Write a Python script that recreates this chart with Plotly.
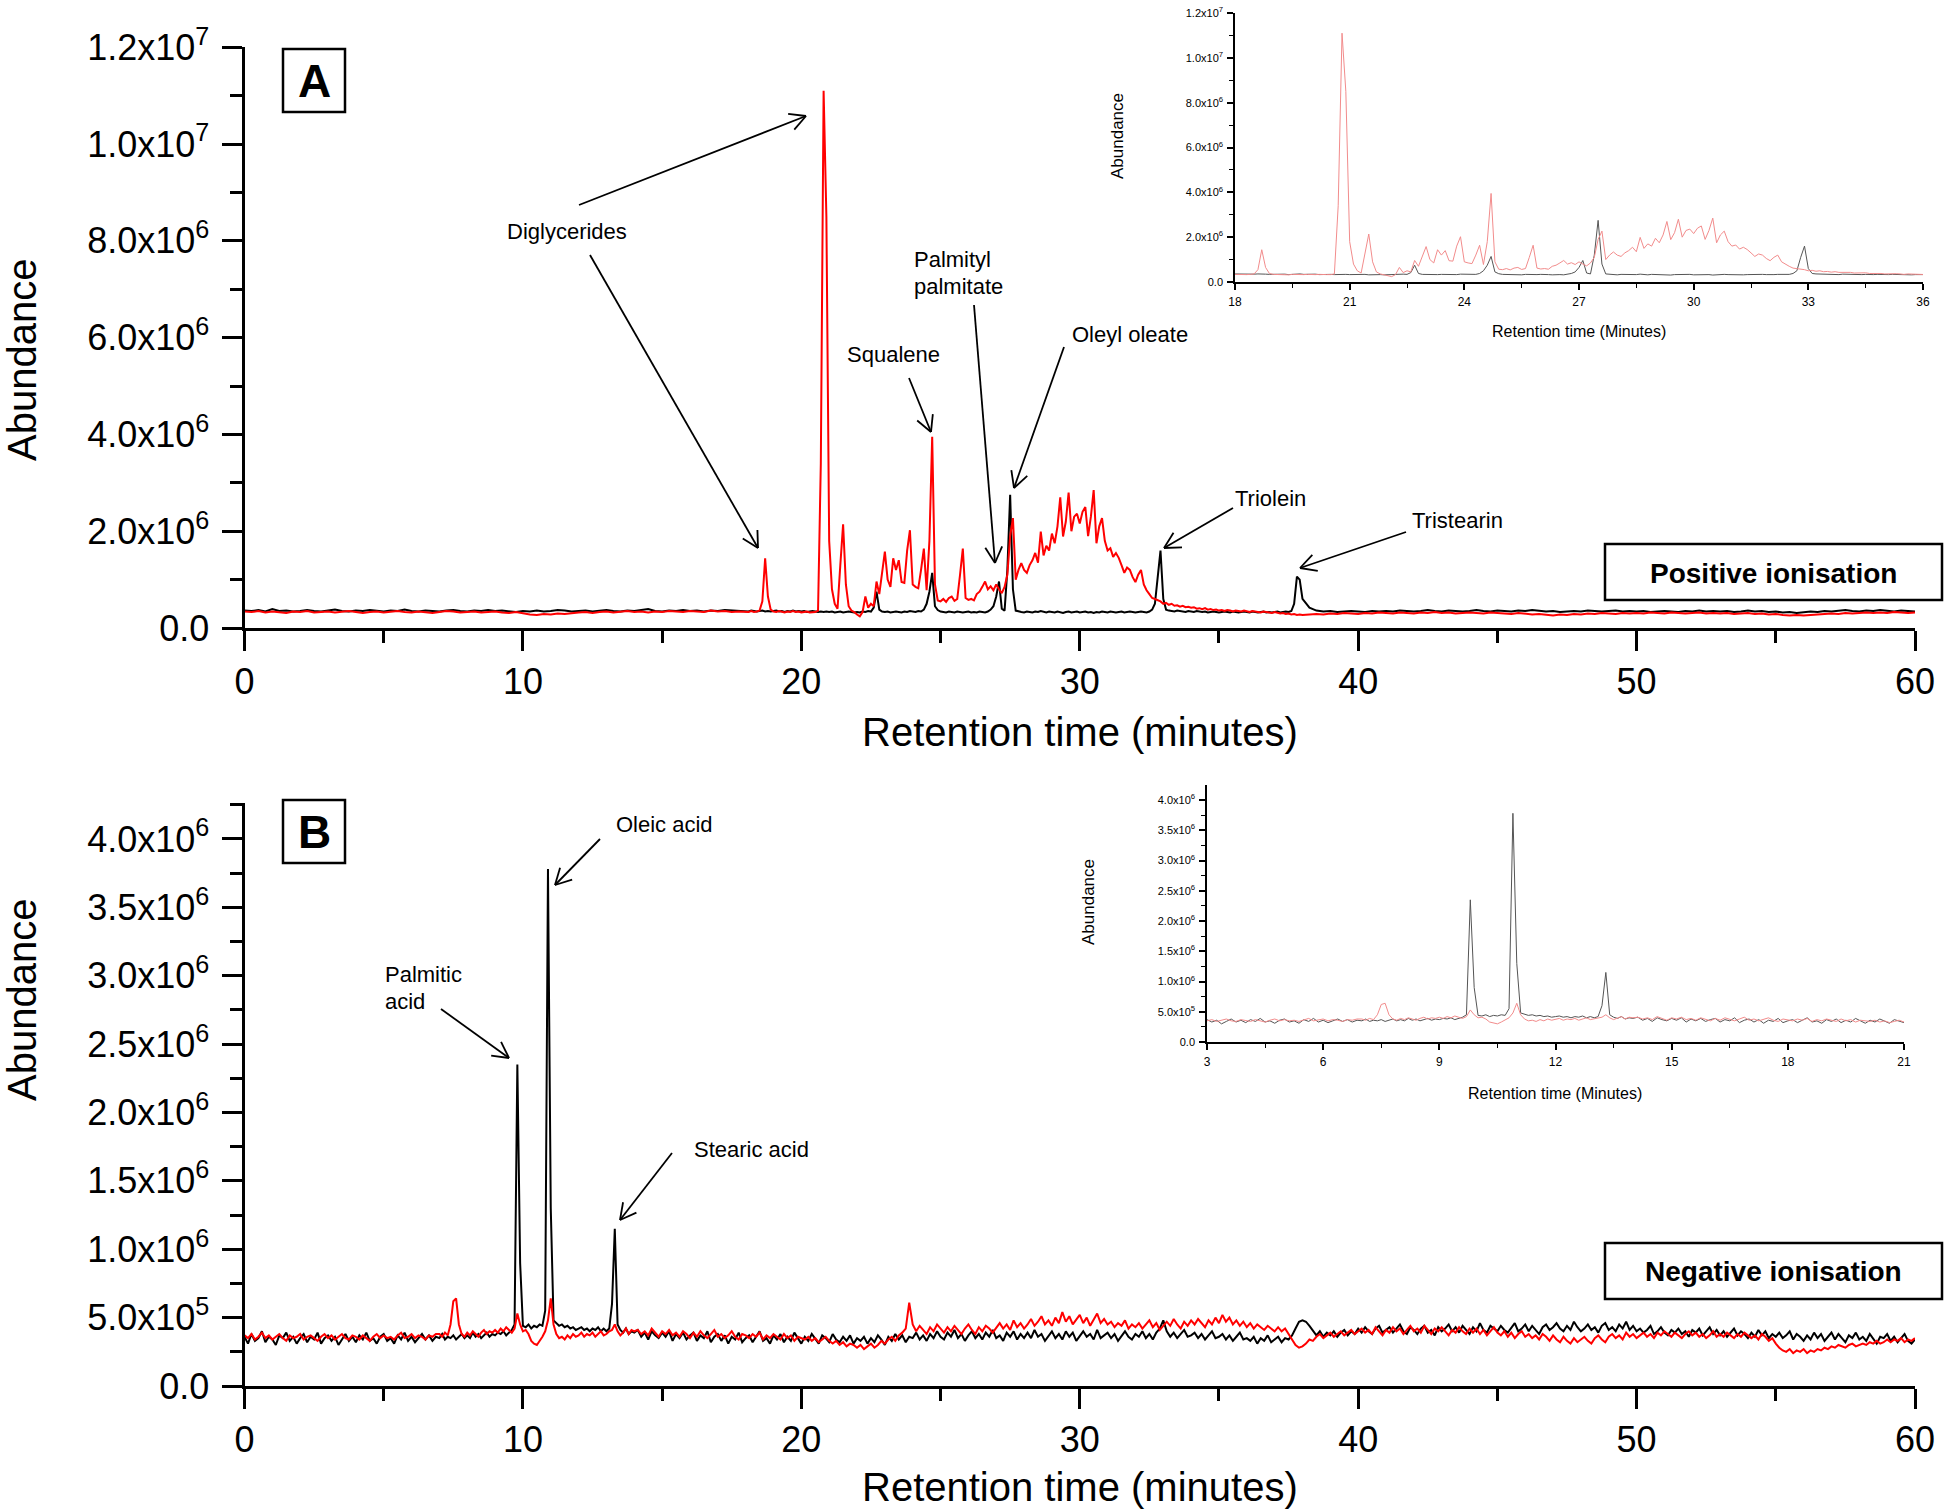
import math
import numpy as np
import plotly.graph_objects as go

W, H = 1946, 1512
FONT = "Liberation Sans, Arial, Helvetica, sans-serif"

# ---------------- DATA (abundance in units of 1e6) ----------------
# Panel A: positive ionisation. Three sampling segments per trace.
A_EARLY = (0.0, 0.25)   # start, step (min)
A_MID = (18.0, 0.1)
A_LATE = (38.25, 0.25)

a_black_early = [
    0.36, 0.35, 0.37, 0.34, 0.39, 0.35, 0.36, 0.34, 0.35, 0.37, 0.35, 0.34,
    0.36, 0.38, 0.35, 0.34, 0.36, 0.35, 0.37, 0.35, 0.34, 0.36, 0.35, 0.38,
    0.35, 0.34, 0.36, 0.35, 0.34, 0.36, 0.37, 0.35, 0.34, 0.36, 0.35, 0.37,
    0.35, 0.36, 0.34, 0.33, 0.35, 0.34, 0.36, 0.34, 0.35, 0.37, 0.36, 0.34,
    0.35, 0.36, 0.34, 0.35, 0.37, 0.35, 0.34, 0.36, 0.35, 0.37, 0.39, 0.35,
    0.34, 0.36, 0.35, 0.37, 0.35, 0.36, 0.34, 0.36, 0.35, 0.37, 0.36, 0.35]
a_black_mid = [
    0.35, 0.34, 0.36, 0.35, 0.34, 0.35, 0.36, 0.34, 0.35, 0.34,
    0.35, 0.36, 0.34, 0.35, 0.33, 0.35, 0.34, 0.36, 0.34, 0.35,
    0.34, 0.35, 0.33, 0.34, 0.35, 0.34, 0.33, 0.34, 0.33, 0.34,
    0.33, 0.34, 0.32, 0.33, 0.34, 0.32, 0.33, 0.34, 0.33, 0.32,
    0.33, 0.32, 0.34, 0.33, 0.35, 0.34, 0.42, 0.75, 0.38, 0.34,
    0.33, 0.34, 0.32, 0.33, 0.34, 0.33, 0.32, 0.34, 0.33, 0.35,
    0.34, 0.33, 0.35, 0.34, 0.38, 0.50, 0.75, 1.14, 0.45, 0.37,
    0.34, 0.33, 0.32, 0.34, 0.33, 0.32, 0.34, 0.33, 0.32, 0.33,
    0.34, 0.32, 0.33, 0.32, 0.34, 0.33, 0.32, 0.34, 0.38, 0.45,
    0.65, 0.96, 0.40, 0.36, 1.20, 2.75, 0.80, 0.36, 0.34, 0.33,
    0.32, 0.34, 0.33, 0.32, 0.34, 0.33, 0.35, 0.33, 0.32, 0.34,
    0.33, 0.32, 0.34, 0.33, 0.31, 0.33, 0.34, 0.32, 0.33, 0.34,
    0.32, 0.33, 0.34, 0.32, 0.33, 0.31, 0.33, 0.32, 0.34, 0.33,
    0.32, 0.34, 0.33, 0.32, 0.33, 0.34, 0.32, 0.33, 0.34, 0.33,
    0.32, 0.33, 0.34, 0.33, 0.32, 0.34, 0.38, 0.50, 1.10, 1.60,
    0.60, 0.38, 0.36, 0.35, 0.34, 0.36, 0.35, 0.34, 0.33, 0.35,
    0.34, 0.33, 0.35, 0.34, 0.33, 0.34, 0.32, 0.33, 0.34, 0.33,
    0.32, 0.33, 0.34, 0.33, 0.32, 0.34, 0.33, 0.32, 0.33, 0.34,
    0.33, 0.32, 0.34, 0.33, 0.32, 0.33, 0.34, 0.32, 0.33, 0.32,
    0.33, 0.34, 0.32, 0.33, 0.34, 0.33, 0.35, 0.50, 1.06, 1.00,
    0.60]
a_black_late = [
    0.42, 0.36, 0.34, 0.35, 0.33, 0.34, 0.35, 0.34, 0.33, 0.35, 0.34,
    0.35, 0.34, 0.36, 0.35, 0.34, 0.35, 0.37, 0.35, 0.34, 0.36, 0.35, 0.34,
    0.35, 0.37, 0.35, 0.34, 0.36, 0.35, 0.34, 0.36, 0.35, 0.37, 0.35, 0.34,
    0.35, 0.33, 0.34, 0.35, 0.34, 0.36, 0.35, 0.34, 0.35, 0.36, 0.34, 0.35,
    0.34, 0.35, 0.33, 0.34, 0.35, 0.34, 0.33, 0.35, 0.34, 0.36, 0.34, 0.35,
    0.34, 0.35, 0.33, 0.34, 0.36, 0.34, 0.35, 0.33, 0.34, 0.32, 0.33, 0.31,
    0.32, 0.34, 0.33, 0.35, 0.34, 0.36, 0.37, 0.35, 0.34, 0.36, 0.35, 0.37,
    0.35, 0.34, 0.36, 0.35, 0.34]

a_red_early = [
    0.34, 0.33, 0.35, 0.32, 0.34, 0.33, 0.31, 0.34, 0.33, 0.35, 0.32, 0.33,
    0.34, 0.32, 0.33, 0.35, 0.33, 0.31, 0.33, 0.34, 0.32, 0.33, 0.35, 0.33,
    0.32, 0.34, 0.33, 0.31, 0.33, 0.35, 0.34, 0.32, 0.33, 0.34, 0.32, 0.33,
    0.34, 0.32, 0.31, 0.33, 0.30, 0.28, 0.27, 0.29, 0.28, 0.30, 0.29, 0.31,
    0.32, 0.33, 0.31, 0.33, 0.34, 0.32, 0.33, 0.35, 0.33, 0.34, 0.32, 0.34,
    0.33, 0.35, 0.34, 0.33, 0.35, 0.34, 0.33, 0.36, 0.34, 0.35, 0.33, 0.34]
a_red_mid = [
    0.34, 0.33, 0.35, 0.33, 0.34, 0.36, 0.55, 1.44, 0.65, 0.38,
    0.34, 0.33, 0.35, 0.34, 0.32, 0.34, 0.33, 0.35, 0.33, 0.34,
    0.32, 0.33, 0.34, 0.32, 0.33, 0.33, 0.36, 3.40, 11.10, 8.50,
    1.80, 0.80, 0.50, 0.40, 1.30, 2.14, 0.90, 0.45, 0.36, 0.33,
    0.28, 0.24, 0.33, 0.65, 0.42, 0.50, 0.45, 0.96, 0.70, 1.10,
    1.58, 1.00, 0.85, 1.44, 1.20, 1.40, 0.95, 0.93, 1.60, 2.02,
    0.90, 0.85, 0.82, 1.20, 1.64, 0.78, 1.80, 3.95, 0.90, 0.57,
    0.55, 0.60, 0.54, 0.62, 0.65, 0.56, 0.60, 1.10, 1.64, 0.62,
    0.58, 0.60, 0.57, 0.70, 0.75, 0.85, 0.96, 0.80, 0.86, 0.78,
    0.90, 0.80, 0.72, 0.85, 1.10, 1.90, 2.27, 1.00, 1.20, 1.34,
    1.20, 1.14, 1.30, 1.40, 1.55, 1.35, 1.99, 1.50, 1.70, 1.60,
    1.95, 1.75, 2.10, 2.70, 1.89, 2.20, 2.80, 2.00, 2.30, 2.36,
    2.16, 2.40, 2.50, 1.90, 2.30, 2.85, 1.75, 2.10, 2.27, 1.80,
    1.60, 1.65, 1.47, 1.55, 1.45, 1.30, 1.14, 1.25, 1.20, 1.05,
    0.95, 1.10, 1.20, 0.90, 0.78, 0.70, 0.62, 0.60, 0.58, 0.55,
    0.50, 0.52, 0.48, 0.50, 0.46, 0.47, 0.44, 0.46, 0.43, 0.44,
    0.42, 0.43, 0.40, 0.41, 0.39, 0.41, 0.38, 0.39, 0.37, 0.38,
    0.36, 0.37, 0.35, 0.37, 0.36, 0.34, 0.36, 0.35, 0.34, 0.36,
    0.34, 0.33, 0.35, 0.34, 0.33, 0.32, 0.34, 0.33, 0.32, 0.31,
    0.33, 0.32, 0.30, 0.31, 0.29, 0.30, 0.28, 0.29, 0.27, 0.28,
    0.27]
a_red_late = [
    0.28, 0.29, 0.28, 0.30, 0.29, 0.31, 0.30, 0.29, 0.31, 0.30, 0.32,
    0.31, 0.30, 0.32, 0.31, 0.30, 0.32, 0.31, 0.33, 0.31, 0.32, 0.30, 0.31,
    0.32, 0.31, 0.30, 0.32, 0.31, 0.30, 0.29, 0.31, 0.30, 0.28, 0.29, 0.27,
    0.26, 0.28, 0.27, 0.29, 0.28, 0.30, 0.29, 0.31, 0.30, 0.29, 0.31, 0.30,
    0.31, 0.30, 0.32, 0.31, 0.30, 0.32, 0.31, 0.30, 0.31, 0.32, 0.30, 0.31,
    0.30, 0.31, 0.29, 0.30, 0.31, 0.29, 0.30, 0.28, 0.29, 0.27, 0.26, 0.27,
    0.26, 0.27, 0.28, 0.29, 0.30, 0.29, 0.31, 0.30, 0.31, 0.32, 0.31, 0.32,
    0.31, 0.33, 0.32, 0.31, 0.32]

# Panel B: negative ionisation
B_EARLY = (0.0, 0.125)
B_MID = (7.0, 0.1)
B_LATE = (14.125, 0.125)

b_black_early = [
    0.36, 0.31, 0.38, 0.33, 0.35, 0.40, 0.32, 0.36,
    0.34, 0.30, 0.37, 0.35, 0.39, 0.33, 0.36, 0.31,
    0.35, 0.38, 0.32, 0.36, 0.34, 0.39, 0.31, 0.35,
    0.37, 0.33, 0.36, 0.30, 0.34, 0.38, 0.33, 0.36,
    0.32, 0.37, 0.34, 0.39, 0.33, 0.35, 0.31, 0.36,
    0.38, 0.33, 0.35, 0.31, 0.37, 0.34, 0.39, 0.33,
    0.36, 0.32, 0.35, 0.38, 0.34, 0.37, 0.33, 0.36]
b_black_mid = [
    0.35, 0.38, 0.34, 0.36, 0.35, 0.37, 0.34, 0.36, 0.38, 0.35,
    0.37, 0.35, 0.39, 0.36, 0.38, 0.35, 0.37, 0.39, 0.36, 0.38,
    0.37, 0.39, 0.38, 0.40, 0.37, 0.39, 0.41, 0.45, 2.35, 0.90,
    0.44, 0.43, 0.45, 0.42, 0.44, 0.43, 0.45, 0.44, 0.55, 3.78,
    1.30, 0.48, 0.46, 0.44, 0.45, 0.43, 0.44, 0.42, 0.43, 0.41,
    0.42, 0.43, 0.41, 0.42, 0.40, 0.42, 0.41, 0.43, 0.40, 0.42,
    0.40, 0.42, 0.60, 1.15, 0.45, 0.41, 0.39, 0.42, 0.38, 0.40,
    0.39]
b_black_late = [
    0.41, 0.36, 0.39, 0.34, 0.40, 0.37, 0.35, 0.39,
    0.36, 0.40, 0.33, 0.38, 0.35, 0.39, 0.34, 0.37,
    0.39, 0.33, 0.37, 0.35, 0.40, 0.32, 0.36, 0.38,
    0.33, 0.37, 0.31, 0.36, 0.34, 0.39, 0.32, 0.35,
    0.37, 0.32, 0.36, 0.40, 0.33, 0.35, 0.31, 0.37,
    0.34, 0.38, 0.32, 0.36, 0.33, 0.39, 0.35, 0.31,
    0.36, 0.33, 0.38, 0.34, 0.31, 0.37, 0.35, 0.32,
    0.38, 0.34, 0.32, 0.36, 0.33, 0.37, 0.31, 0.35,
    0.33, 0.36, 0.31, 0.35, 0.32, 0.37, 0.34, 0.30,
    0.36, 0.33, 0.38, 0.34, 0.37, 0.32, 0.36, 0.35,
    0.39, 0.34, 0.37, 0.33, 0.38, 0.35, 0.40, 0.36,
    0.34, 0.39, 0.36, 0.41, 0.35, 0.38, 0.33, 0.37,
    0.40, 0.35, 0.38, 0.34, 0.39, 0.36, 0.41, 0.35,
    0.37, 0.33, 0.39, 0.36, 0.40, 0.34, 0.38, 0.35,
    0.39, 0.35, 0.41, 0.36, 0.38, 0.33, 0.37, 0.40,
    0.35, 0.38, 0.34, 0.40, 0.36, 0.39, 0.33, 0.37,
    0.40, 0.36, 0.38, 0.34, 0.41, 0.35, 0.37, 0.39,
    0.35, 0.38, 0.33, 0.37, 0.40, 0.36, 0.34, 0.38,
    0.36, 0.40, 0.35, 0.38, 0.34, 0.39, 0.42, 0.48,
    0.40, 0.36, 0.39, 0.35, 0.38, 0.41, 0.36, 0.37,
    0.39, 0.35, 0.38, 0.34, 0.37, 0.40, 0.35, 0.36,
    0.38, 0.34, 0.37, 0.33, 0.36, 0.39, 0.34, 0.35,
    0.33, 0.36, 0.31, 0.35, 0.33, 0.37, 0.32, 0.34,
    0.36, 0.32, 0.35, 0.34, 0.37, 0.42, 0.47, 0.48,
    0.47, 0.44, 0.40, 0.37, 0.40, 0.36, 0.39, 0.37,
    0.40, 0.36, 0.39, 0.41, 0.37, 0.40, 0.38, 0.42,
    0.39, 0.43, 0.40, 0.38, 0.42, 0.44, 0.39, 0.41,
    0.43, 0.39, 0.42, 0.45, 0.40, 0.38, 0.43, 0.41,
    0.38, 0.42, 0.44, 0.39, 0.41, 0.37, 0.43, 0.40,
    0.42, 0.45, 0.40, 0.43, 0.39, 0.44, 0.41, 0.38,
    0.43, 0.40, 0.46, 0.41, 0.39, 0.44, 0.42, 0.40,
    0.44, 0.41, 0.39, 0.43, 0.46, 0.40, 0.42, 0.45,
    0.40, 0.44, 0.41, 0.38, 0.43, 0.45, 0.41, 0.43,
    0.46, 0.42, 0.40, 0.44, 0.41, 0.47, 0.43, 0.40,
    0.42, 0.45, 0.41, 0.43, 0.39, 0.44, 0.46, 0.41,
    0.43, 0.40, 0.45, 0.42, 0.47, 0.41, 0.44, 0.40,
    0.42, 0.39, 0.41, 0.44, 0.38, 0.40, 0.43, 0.39,
    0.37, 0.41, 0.39, 0.42, 0.38, 0.40, 0.36, 0.41,
    0.39, 0.42, 0.37, 0.40, 0.43, 0.38, 0.41, 0.37,
    0.40, 0.36, 0.39, 0.42, 0.37, 0.40, 0.38, 0.35,
    0.39, 0.36, 0.41, 0.37, 0.40, 0.35, 0.38, 0.36,
    0.39, 0.35, 0.37, 0.40, 0.34, 0.38, 0.36, 0.33,
    0.37, 0.34, 0.39, 0.35, 0.38, 0.33, 0.36, 0.39,
    0.34, 0.38, 0.35, 0.32, 0.37, 0.35, 0.39, 0.34,
    0.36, 0.33, 0.38, 0.34, 0.31, 0.36, 0.35, 0.38,
    0.33, 0.36, 0.32, 0.35, 0.38, 0.33, 0.31, 0.34]

b_red_early = [
    0.37, 0.35, 0.38, 0.34, 0.36, 0.39, 0.35, 0.37,
    0.34, 0.36, 0.38, 0.35, 0.33, 0.37, 0.35, 0.36,
    0.38, 0.34, 0.36, 0.37, 0.35, 0.33, 0.36, 0.38,
    0.35, 0.37, 0.34, 0.36, 0.38, 0.35, 0.34, 0.37,
    0.36, 0.34, 0.37, 0.35, 0.33, 0.36, 0.38, 0.35,
    0.37, 0.35, 0.36, 0.34, 0.37, 0.39, 0.35, 0.36,
    0.38, 0.35, 0.37, 0.36, 0.34, 0.37, 0.36, 0.38]
b_red_mid = [
    0.38, 0.36, 0.39, 0.37, 0.45, 0.62, 0.64, 0.45, 0.38, 0.36,
    0.39, 0.37, 0.40, 0.38, 0.36, 0.39, 0.41, 0.38, 0.40, 0.39,
    0.41, 0.39, 0.42, 0.40, 0.43, 0.41, 0.39, 0.42, 0.53, 0.45,
    0.40, 0.41, 0.38, 0.33, 0.31, 0.30, 0.33, 0.36, 0.40, 0.48,
    0.64, 0.45, 0.38, 0.35, 0.36, 0.34, 0.37, 0.35, 0.38, 0.36,
    0.37, 0.39, 0.36, 0.38, 0.37, 0.39, 0.36, 0.38, 0.40, 0.37,
    0.38, 0.40, 0.41, 0.45, 0.40, 0.37, 0.39, 0.42, 0.38, 0.41,
    0.40]
b_red_late = [
    0.41, 0.38, 0.40, 0.37, 0.42, 0.39, 0.36, 0.40,
    0.38, 0.41, 0.37, 0.39, 0.36, 0.40, 0.38, 0.35,
    0.39, 0.36, 0.40, 0.37, 0.35, 0.38, 0.41, 0.36,
    0.38, 0.35, 0.37, 0.40, 0.36, 0.34, 0.38, 0.37,
    0.35, 0.38, 0.36, 0.39, 0.34, 0.37, 0.35, 0.38,
    0.36, 0.34, 0.38, 0.35, 0.37, 0.33, 0.36, 0.35,
    0.34, 0.36, 0.33, 0.35, 0.32, 0.34, 0.36, 0.33,
    0.31, 0.33, 0.30, 0.32, 0.29, 0.31, 0.30, 0.28,
    0.30, 0.27, 0.29, 0.31, 0.28, 0.30, 0.33, 0.31,
    0.34, 0.36, 0.33, 0.37, 0.39, 0.42, 0.61, 0.45,
    0.40, 0.44, 0.41, 0.38, 0.43, 0.40, 0.45, 0.42,
    0.39, 0.43, 0.40, 0.44, 0.41, 0.38, 0.42, 0.45,
    0.41, 0.38, 0.43, 0.40, 0.44, 0.42, 0.39, 0.43,
    0.46, 0.42, 0.45, 0.41, 0.48, 0.43, 0.46, 0.42,
    0.45, 0.49, 0.44, 0.47, 0.51, 0.45, 0.48, 0.44,
    0.50, 0.46, 0.54, 0.47, 0.51, 0.45, 0.49, 0.52,
    0.46, 0.50, 0.44, 0.48, 0.53, 0.46, 0.49, 0.45,
    0.47, 0.43, 0.46, 0.44, 0.48, 0.42, 0.45, 0.43,
    0.46, 0.42, 0.45, 0.48, 0.43, 0.46, 0.41, 0.44,
    0.47, 0.44, 0.49, 0.45, 0.42, 0.47, 0.44, 0.48,
    0.45, 0.49, 0.46, 0.43, 0.48, 0.45, 0.50, 0.46,
    0.52, 0.47, 0.50, 0.45, 0.48, 0.44, 0.47, 0.43,
    0.46, 0.42, 0.45, 0.43, 0.41, 0.44, 0.42, 0.40,
    0.43, 0.40, 0.42, 0.38, 0.35, 0.30, 0.28, 0.29,
    0.31, 0.34, 0.33, 0.36, 0.38, 0.35, 0.37, 0.39,
    0.36, 0.38, 0.40, 0.37, 0.39, 0.41, 0.38, 0.40,
    0.42, 0.39, 0.41, 0.38, 0.43, 0.40, 0.37, 0.41,
    0.39, 0.43, 0.40, 0.42, 0.38, 0.41, 0.44, 0.40,
    0.42, 0.39, 0.44, 0.41, 0.38, 0.42, 0.40, 0.43,
    0.40, 0.37, 0.41, 0.39, 0.43, 0.40, 0.38, 0.42,
    0.39, 0.42, 0.38, 0.41, 0.37, 0.40, 0.43, 0.39,
    0.37, 0.40, 0.36, 0.39, 0.35, 0.38, 0.40, 0.36,
    0.38, 0.35, 0.37, 0.34, 0.38, 0.36, 0.33, 0.37,
    0.34, 0.32, 0.36, 0.33, 0.31, 0.35, 0.32, 0.34,
    0.36, 0.33, 0.31, 0.35, 0.37, 0.34, 0.32, 0.36,
    0.38, 0.35, 0.37, 0.34, 0.39, 0.36, 0.38, 0.35,
    0.37, 0.39, 0.36, 0.38, 0.35, 0.39, 0.37, 0.40,
    0.38, 0.36, 0.39, 0.37, 0.35, 0.38, 0.40, 0.37,
    0.39, 0.36, 0.38, 0.35, 0.37, 0.40, 0.36, 0.38,
    0.36, 0.39, 0.37, 0.35, 0.38, 0.36, 0.39, 0.37,
    0.35, 0.37, 0.34, 0.38, 0.36, 0.33, 0.35, 0.31,
    0.28, 0.26, 0.25, 0.27, 0.24, 0.26, 0.25, 0.27,
    0.24, 0.26, 0.25, 0.27, 0.26, 0.28, 0.27, 0.29,
    0.28, 0.30, 0.29, 0.28, 0.30, 0.31, 0.29, 0.30,
    0.31, 0.30, 0.32, 0.31, 0.33, 0.31, 0.32, 0.34,
    0.32, 0.34, 0.33, 0.35, 0.32, 0.34, 0.33, 0.35]

# tick labels
a_tickvals = [0, 2, 4, 6, 8, 10, 12]
a_ticktext = ["0.0", "2.0x10<sup>6</sup>", "4.0x10<sup>6</sup>", "6.0x10<sup>6</sup>",
              "8.0x10<sup>6</sup>", "1.0x10<sup>7</sup>", "1.2x10<sup>7</sup>"]
b_tickvals = [0, 0.5, 1.0, 1.5, 2.0, 2.5, 3.0, 3.5, 4.0]
b_ticktext = ["0.0", "5.0x10<sup>5</sup>", "1.0x10<sup>6</sup>", "1.5x10<sup>6</sup>",
              "2.0x10<sup>6</sup>", "2.5x10<sup>6</sup>", "3.0x10<sup>6</sup>",
              "3.5x10<sup>6</sup>", "4.0x10<sup>6</sup>"]


def series(segments):
    ts, vs = [], []
    for (start, step), vals in segments:
        ts.extend(np.round(start + step * np.arange(len(vals)), 4).tolist())
        vs.extend(vals)
    return ts, vs


a_bt, a_bv = series([(A_EARLY, a_black_early), (A_MID, a_black_mid), (A_LATE, a_black_late)])
a_rt, a_rv = series([(A_EARLY, a_red_early), (A_MID, a_red_mid), (A_LATE, a_red_late)])
b_bt, b_bv = series([(B_EARLY, b_black_early), (B_MID, b_black_mid), (B_LATE, b_black_late)])
b_rt, b_rv = series([(B_EARLY, b_red_early), (B_MID, b_red_mid), (B_LATE, b_red_late)])


# ---------------- helpers (pixel -> paper) ----------------
def px(x):
    return x / W


def py(y):
    return 1 - y / H


fig = go.Figure()

# main traces
fig.add_trace(go.Scatter(x=a_bt, y=a_bv, mode="lines", line=dict(color="black", width=2),
                         xaxis="x", yaxis="y", showlegend=False))
fig.add_trace(go.Scatter(x=a_rt, y=a_rv, mode="lines", line=dict(color="#ff0000", width=2),
                         xaxis="x", yaxis="y", showlegend=False))
fig.add_trace(go.Scatter(x=b_bt, y=b_bv, mode="lines", line=dict(color="black", width=2),
                         xaxis="x2", yaxis="y2", showlegend=False))
fig.add_trace(go.Scatter(x=b_rt, y=b_rv, mode="lines", line=dict(color="#ff0000", width=2),
                         xaxis="x2", yaxis="y2", showlegend=False))
# insets (same data, zoomed)
fig.add_trace(go.Scatter(x=a_bt, y=a_bv, mode="lines", line=dict(color="#555555", width=1),
                         xaxis="x3", yaxis="y3", showlegend=False))
fig.add_trace(go.Scatter(x=a_rt, y=a_rv, mode="lines", line=dict(color="#f28c8c", width=1),
                         xaxis="x3", yaxis="y3", showlegend=False))
fig.add_trace(go.Scatter(x=b_bt, y=b_bv, mode="lines", line=dict(color="#555555", width=1),
                         xaxis="x4", yaxis="y4", showlegend=False))
fig.add_trace(go.Scatter(x=b_rt, y=b_rv, mode="lines", line=dict(color="#f28c8c", width=1),
                         xaxis="x4", yaxis="y4", showlegend=False))


def main_x(anchor):
    return dict(domain=[px(244.5), px(1915)], anchor=anchor, range=[0, 60], automargin=False,
                showline=True, linewidth=3, linecolor="black", showgrid=False, zeroline=False,
                ticks="outside", ticklen=20, tickwidth=3, tickcolor="black",
                tickmode="linear", tick0=0, dtick=10, ticklabelstandoff=0,
                tickfont=dict(size=36, color="black", family=FONT),
                minor=dict(ticks="outside", ticklen=12, tickwidth=3, tickcolor="black",
                           tickmode="linear", tick0=0, dtick=5))


def main_y(anchor, dom, rng, tv, tt, minor_dt):
    return dict(domain=dom, anchor=anchor, range=rng, automargin=False,
                showline=True, linewidth=3, linecolor="black", showgrid=False, zeroline=False,
                ticks="outside", ticklen=20, tickwidth=3, tickcolor="black",
                tickmode="array", tickvals=tv, ticktext=tt, ticklabelstandoff=5,
                tickfont=dict(size=36, color="black", family=FONT),
                minor=dict(ticks="outside", ticklen=12, tickwidth=3, tickcolor="black",
                           tickmode="linear", tick0=0, dtick=minor_dt))


def inset_x(anchor, dom, rng, dt):
    return dict(domain=dom, anchor=anchor, range=rng, automargin=False,
                showline=True, linewidth=1.5, linecolor="black", showgrid=False, zeroline=False,
                ticks="outside", ticklen=6, tickwidth=1.5, tickcolor="black",
                tickmode="linear", tick0=rng[0], dtick=dt, ticklabelstandoff=2,
                tickfont=dict(size=12, color="black", family=FONT),
                minor=dict(ticks="outside", ticklen=4, tickwidth=1.2, tickcolor="black",
                           tickmode="linear", tick0=rng[0], dtick=dt / 2))


def inset_y(anchor, dom, rng, tv, tt, minor_dt):
    return dict(domain=dom, anchor=anchor, range=rng, automargin=False,
                showline=True, linewidth=1.5, linecolor="black", showgrid=False, zeroline=False,
                ticks="outside", ticklen=6, tickwidth=1.5, tickcolor="black",
                tickmode="array", tickvals=tv, ticktext=tt, ticklabelstandoff=2,
                tickfont=dict(size=11, color="black", family=FONT),
                minor=dict(ticks="outside", ticklen=4, tickwidth=1.2, tickcolor="black",
                           tickmode="linear", tick0=0, dtick=minor_dt))


fig.update_layout(
    width=W, height=H, autosize=False,
    margin=dict(l=0, r=0, t=0, b=0, pad=0, autoexpand=False),
    paper_bgcolor="white", plot_bgcolor="white",
    font=dict(family=FONT, color="black"),
    showlegend=False,
    xaxis=main_x("y"),
    yaxis=main_y("x", [py(628), py(47.2)], [0, 12], a_tickvals, a_ticktext, 1),
    xaxis2=main_x("y2"),
    yaxis2=main_y("x2", [py(1386), py(803)], [0, 4.263], b_tickvals, b_ticktext, 0.25),
    xaxis3=inset_x("y3", [px(1235), px(1923)], [18, 36], 3),
    yaxis3=inset_y("x3", [py(282), py(13)], [0, 12], a_tickvals, a_ticktext, 1),
    xaxis4=inset_x("y4", [px(1207), px(1904)], [3, 21], 3),
    yaxis4=inset_y("x4", [py(1042), py(785)], [0, 4.248], b_tickvals, b_ticktext, 0.25),
)

annotations = []
shapes = []


def text(x, y, s, size, xanchor="center", angle=0):
    annotations.append(dict(x=px(x), y=py(y), xref="paper", yref="paper", text=s,
                            showarrow=False, xanchor=xanchor, yanchor="middle",
                            textangle=angle, align="left",
                            font=dict(size=size, family=FONT, color="black")))


def box(x0, y0, x1, y1, lw=2.5):
    shapes.append(dict(type="rect", xref="paper", yref="paper",
                       x0=px(x0), y0=py(y1), x1=px(x1), y1=py(y0),
                       line=dict(color="black", width=lw), fillcolor="white", layer="above"))


def arrow(tail, head, arm=18, ang=28):
    lw = 1.8
    shapes.append(dict(type="line", xref="paper", yref="paper",
                       x0=px(tail[0]), y0=py(tail[1]), x1=px(head[0]), y1=py(head[1]),
                       line=dict(color="black", width=lw)))
    dx, dy = tail[0] - head[0], tail[1] - head[1]
    n = math.hypot(dx, dy)
    dx, dy = dx / n, dy / n
    for s in (1, -1):
        a = math.radians(ang * s)
        rx = dx * math.cos(a) - dy * math.sin(a)
        ry = dx * math.sin(a) + dy * math.cos(a)
        shapes.append(dict(type="line", xref="paper", yref="paper",
                           x0=px(head[0]), y0=py(head[1]),
                           x1=px(head[0] + arm * rx), y1=py(head[1] + arm * ry),
                           line=dict(color="black", width=lw)))


# axis titles
text(1080, 732, "Retention time (minutes)", 40)
text(1080, 1487, "Retention time (minutes)", 40)
text(22, 360, "Abundance", 40, angle=-90)
text(22, 1000, "Abundance", 40, angle=-90)
text(1579, 332, "Retention time (Minutes)", 16)
text(1555, 1093, "Retention time (Minutes)", 16)
text(1117, 136, "Abundance", 17, angle=-90)
text(1089, 902, "Abundance", 17, angle=-90)

# panel labels
box(283, 49, 345, 112)
text(314, 81, "<b>A</b>", 46)
box(283, 800, 345, 863)
text(314, 832, "<b>B</b>", 46)

# ionisation boxes
box(1605, 544, 1942, 600)
text(1773, 573, "<b>Positive ionisation</b>", 28)
box(1605, 1243, 1942, 1299)
text(1773, 1271, "<b>Negative ionisation</b>", 28)

# panel A labels and arrows
text(567, 231, "Diglycerides", 22)
arrow((579, 205), (806, 116))
arrow((590, 255), (758, 548))
text(893, 355, "Squalene", 22)
arrow((909, 378), (931, 432))
text(912, 259, "Palmityl", 22, xanchor="left")
text(912, 286, "palmitate", 22, xanchor="left")
arrow((974, 305), (995, 563))
text(1130, 334, "Oleyl oleate", 22)
arrow((1064, 347), (1014, 488))
text(1270, 499, "Triolein", 22)
arrow((1233, 508), (1164, 548))
text(1457, 521, "Tristearin", 22)
arrow((1406, 532), (1300, 568))

# panel B labels and arrows
text(383, 974, "Palmitic", 22, xanchor="left")
text(383, 1001, "acid", 22, xanchor="left")
arrow((441, 1009), (509, 1058))
text(664, 825, "Oleic acid", 22)
arrow((600, 839), (555, 885))
text(692, 1149, "Stearic acid", 22, xanchor="left")
arrow((672, 1153), (620, 1220))

fig.update_layout(annotations=annotations, shapes=shapes)

fig.write_html("out.html", config={"displayModeBar": False},
               post_script="document.body.style.margin='0';document.body.style.overflow='hidden';")
